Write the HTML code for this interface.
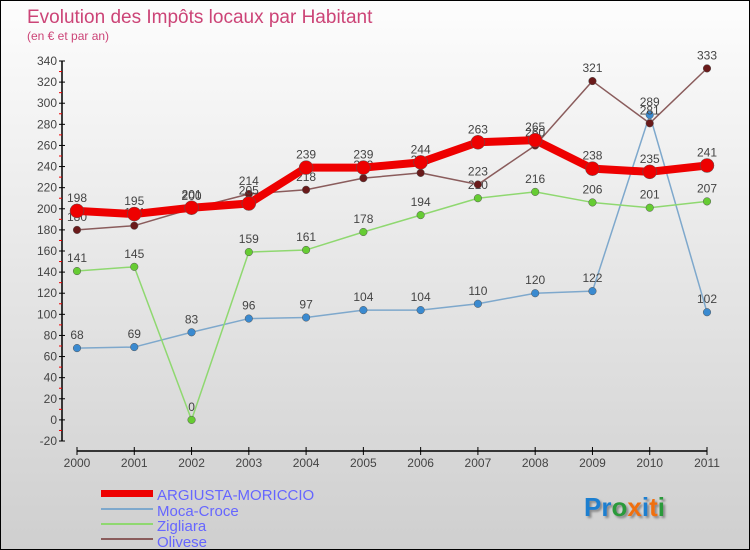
<!DOCTYPE html>
<html><head><meta charset="utf-8"><style>
body{margin:0}
#c{width:750px;height:550px;position:relative;background:linear-gradient(#fdfdfd,#cfcfcf);box-sizing:border-box;border:1px solid #000;overflow:hidden;font-family:"Liberation Sans",sans-serif}
</style></head><body>
<div id="c">
<svg id="s" width="750" height="550" style="position:absolute;left:0;top:0">
<defs><filter id="sh"><feDropShadow dx="2" dy="2" stdDeviation="1" flood-color="#888"/></filter></defs>
<text x="26" y="22" font-size="19" fill="#cc4477">Evolution des Impôts locaux par Habitant</text>
<text x="26" y="39" font-size="12" fill="#cc4477">(en € et par an)</text>
<g id="ax"></g><g id="ser"></g>
<g>
<rect x="100" y="489" width="52" height="7" fill="#e00"/>
<text x="156" y="499" font-size="15" fill="#6666ff">ARGIUSTA-MORICCIO</text>
<rect x="100" y="507" width="52" height="2" fill="#7ea8cc"/>
<text x="156" y="515" font-size="15" fill="#6666ff">Moca-Croce</text>
<rect x="100" y="522" width="52" height="2" fill="#8fd870"/>
<text x="156" y="530" font-size="15" fill="#6666ff">Zigliara</text>
<rect x="100" y="537" width="52" height="2" fill="#8a5c5c"/>
<text x="156" y="546" font-size="15" fill="#6666ff">Olivese</text>
</g>
<text x="583" y="515" font-size="26" font-weight="bold" filter="url(#sh)"><tspan fill="#1a7fd0">Pr</tspan><tspan fill="#2a9a3a">o</tspan><tspan fill="#f07010">x</tspan><tspan fill="#1a7fd0">i</tspan><tspan fill="#f07010">t</tspan><tspan fill="#2a9a3a">i</tspan></text>
</svg>
</div>
<script>
const years=["2000","2001","2002","2003","2004","2005","2006","2007","2008","2009","2010","2011"];
const argiusta=[198,195,201,205,239,239,244,263,265,238,235,241];
const moca=[68,69,83,96,97,104,104,110,120,122,289,102];
const zigliara=[141,145,0,159,161,178,194,210,216,206,201,207];
const olivese=[180,184,200,214,218,229,234,223,260,321,281,333];
const yTicks=[-20,0,20,40,60,80,100,120,140,160,180,200,220,240,260,280,300,320,340];
const NS="http://www.w3.org/2000/svg";
const X=i=>76+i*(630/11);
const Y=v=>440-(v+20)*380/360;
function mk(t,a,p){const e=document.createElementNS(NS,t);for(const k in a)e.setAttribute(k,a[k]);p.appendChild(e);return e;}
const ax=document.getElementById('ax'),ser=document.getElementById('ser');
const ya=mk('line',{x1:61,y1:Y(340),x2:61,y2:Y(-20),stroke:'#000','stroke-width':1.5},ax);


yTicks.forEach(v=>{
 mk('line',{x1:58,y1:Y(v),x2:64,y2:Y(v),stroke:'#000'},ax);
 if(v<340) mk('line',{x1:58,y1:Y(v+10),x2:61,y2:Y(v+10),stroke:'#e00'},ax);
 const t=mk('text',{x:56,y:Y(v)+4,'text-anchor':'end','font-size':12,fill:'#444'},ax);t.textContent=v;
 
 
});
const xa=mk('line',{x1:X(0),y1:450,x2:X(11),y2:450,stroke:'#000','stroke-width':1.5},ax);


years.forEach((y,i)=>{
 mk('line',{x1:X(i),y1:446,x2:X(i),y2:454,stroke:'#000'},ax);
 const t=mk('text',{x:X(i),y:466,'text-anchor':'middle','font-size':12,fill:'#444'},ax);t.textContent=y;
 
 
});
function series(name,vals,color,w,r,dot){
 const g=mk('g',{},ser);
 
 
 const l=mk('polyline',{points:vals.map((v,i)=>X(i)+','+Y(v)).join(' '),fill:'none',stroke:color,'stroke-width':w,'stroke-linejoin':'round'},g);
 
 
 vals.forEach((v,i)=>{
  const c=mk('circle',{cx:X(i),cy:Y(v),r:r,fill:dot,stroke:'#555','stroke-width':0.5},g);
  
  
  const t=mk('text',{x:X(i),y:Y(v)-9,'text-anchor':'middle','font-size':12,fill:'#444'},g);t.textContent=v;
  
  
 });
}
series('moca',moca,'#7ea8cc',1.5,3.8,'#3a8ad0');
series('zigliara',zigliara,'#8fd870',1.5,3.8,'#66cc33');
series('olivese',olivese,'#8a5c5c',1.5,3.8,'#6a1a1a');
series('argiusta',argiusta,'#ee0000',8,7,'#ee0000');
</script>
</body></html>
